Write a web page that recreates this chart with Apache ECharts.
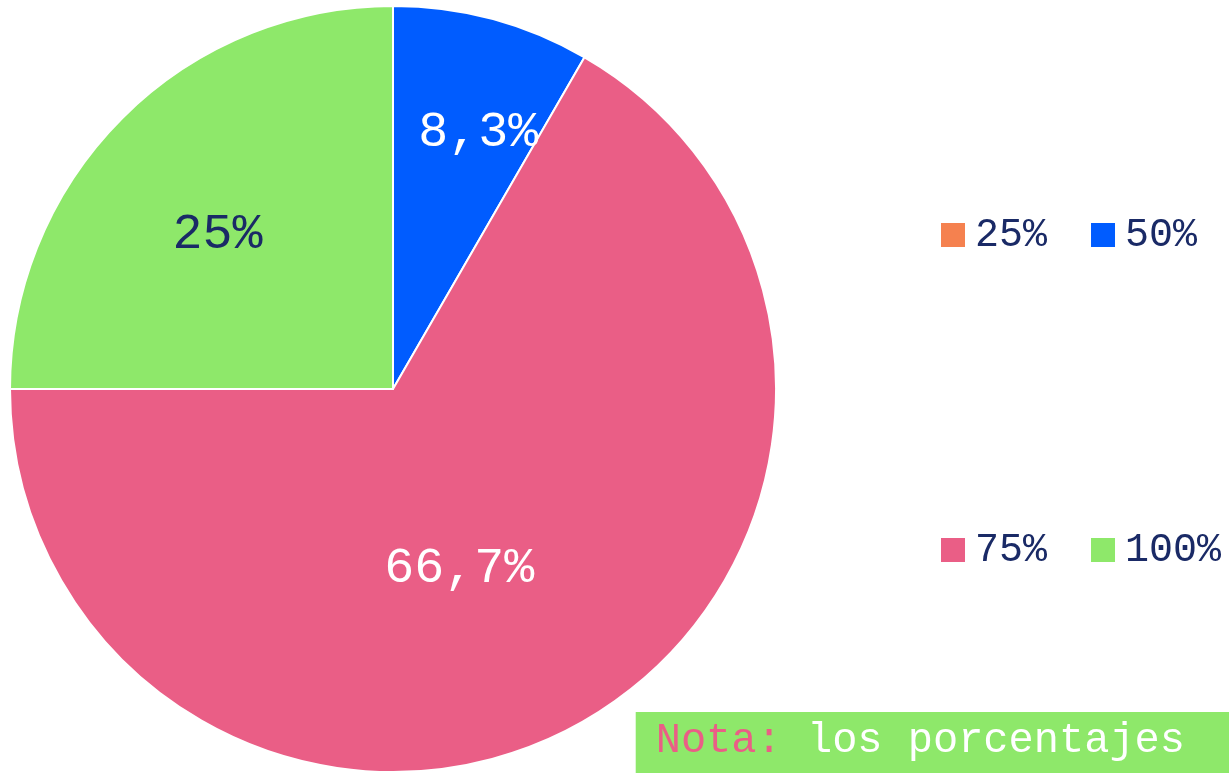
<!DOCTYPE html>
<html>
<head>
<meta charset="utf-8">
<script src="https://cdn.jsdelivr.net/npm/echarts@6/dist/echarts.min.js"></script>
<style>
  html, body { margin: 0; padding: 0; background: #fff; }
  #chart { width: 1229px; height: 773px; }
</style>
</head>
<body>
<div id="chart"></div>
<script>
var categories = ['25%', '50%', '75%', '100%'];
var values = [0, 1, 8, 3];
var colors = ['#f5814f', '#005cff', '#ea5e86', '#8ee86a'];
var labelColors = ['#ffffff', '#ffffff', '#ffffff', '#1a2a66'];
var labelOffsets = [[0, 0], [35, -68], [-31, 11], [-38, -17]];

var chartDom = document.getElementById('chart');
var myChart = echarts.init(chartDom);
var font = '"Liberation Mono", "Courier New", monospace';

var pieData = categories.map(function (name, i) {
    return {
        name: name,
        value: values[i],
        itemStyle: { color: colors[i] },
        label: {
            show: values[i] > 0,
            color: labelColors[i],
            offset: labelOffsets[i]
        }
    };
});

var legendBase = {
    left: 934,
    icon: 'rect',
    itemWidth: 26,
    itemHeight: 26,
    itemGap: 42,
    selectedMode: false,
    textStyle: { fontFamily: font, fontSize: 40, color: '#1a2a66', padding: [0, 0, 0, 4] }
};

var option = {
    animation: false,
    title: {
        text: '{a|Nota:} {b|los porcentajes}',
        right: 0,
        bottom: 0,
        backgroundColor: '#8ee86a',
        padding: [7, 44, 10, 20],
        textStyle: {
            fontFamily: font,
            fontSize: 42,
            fontWeight: 'normal',
            lineHeight: 44,
            color: '#ffffff',
            rich: {
                a: { fontFamily: font, fontSize: 42, color: '#ea5e86', lineHeight: 44 },
                b: { fontFamily: font, fontSize: 42, color: '#ffffff', lineHeight: 44 }
            }
        }
    },
    legend: [
        Object.assign({}, legendBase, { data: categories.slice(0, 2), top: 210 }),
        Object.assign({}, legendBase, { data: categories.slice(2), top: 525 })
    ],
    series: [
        {
            type: 'pie',
            center: [393, 389],
            radius: 383,
            startAngle: 90,
            clockwise: true,
            avoidLabelOverlap: false,
            itemStyle: { borderColor: '#ffffff', borderWidth: 2 },
            label: {
                position: 'inside',
                fontFamily: font,
                fontSize: 50,
                formatter: function (p) {
                    var s = p.percent.toFixed(1);
                    if (s.slice(-2) === '.0') s = s.slice(0, -2);
                    return s.replace('.', ',') + '%';
                }
            },
            labelLine: { show: false },
            emphasis: { scale: false },
            data: pieData
        }
    ]
};

option && myChart.setOption(option);
</script>
</body>
</html>
